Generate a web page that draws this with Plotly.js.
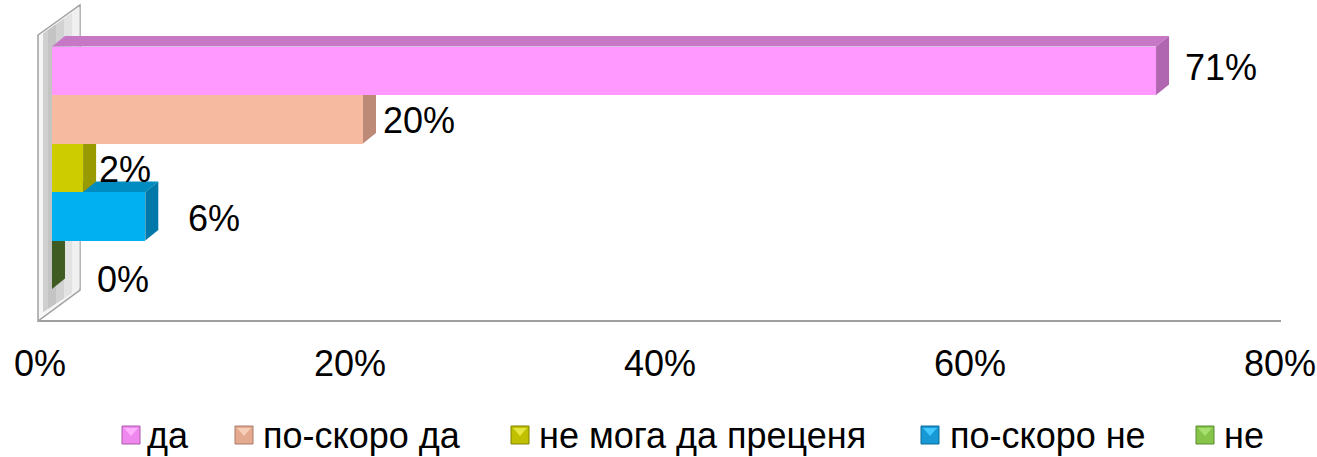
<!DOCTYPE html>
<html><head><meta charset="utf-8">
<script src="https://cdn.plot.ly/plotly-3.0.1.min.js"></script>
<style>html,body{margin:0;padding:0;background:#fff;}</style>
</head><body><div id="chart" style="width:1317px;height:457px;"></div>
<script>
// ---- data ----
const categories = ['да', 'по-скоро да', 'не мога да преценя', 'по-скоро не', 'не'];
const values = [71, 20, 2, 6, 0];
const valueLabels = ['71%', '20%', '2%', '6%', '0%'];
const tickValues = [0, 20, 40, 60, 80];
const tickLabels = ['0%', '20%', '40%', '60%', '80%'];

// ---- styles ----
const frontColors = ['#FF99FF', '#F5BAA0', '#CCCC00', '#00B0F0', '#92D050'];
const topColors   = ['#C678C6', '#D29C85', '#A8A800', '#008CC0', '#5C7F35'];
const sideColors  = ['#B066B0', '#BC8A76', '#999900', '#0079AA', '#3F5B22'];
const legendColors = ['#EE88EE', '#E4AA90', '#C0C000', '#1898D4', '#86C44A'];
const legendLight  = ['#FFB0FF', '#F8CDB8', '#E6E640', '#40C8FF', '#A8E070'];
const legendEdge   = ['#A858A8', '#A87A68', '#808000', '#0A6A98', '#5A8A2E'];
const FONT = 'Liberation Sans, Arial, sans-serif';

// geometry (pixels)
const W = 1317, H = 457, ML = 40, MR = 21, MT = 5, MB = 136;
const PW = W - ML - MR, PH = H - MT - MB;
const BAR0 = 52;                 // pixel of 0 on the bar axis
const TICK80 = 1280;             // pixel of 80% on the tick axis
const XMAX = 80;
const pxPerX = (ML + PW - BAR0) / XMAX;
const bandPx = 48.5;
const firstTop = 46.5;
const yLo = -0.5 - (firstTop - MT) / bandPx;
const yHi = yLo + PH / bandPx;
const depthX = 13 / pxPerX, depthY = 10.5 / bandPx;

const px = p => (p - ML) / PW;            // pixel -> paper x
const py = p => 1 - (p - MT) / PH;         // pixel -> paper y

const traces = categories.map((c, i) => ({
  type: 'bar', orientation: 'h', name: c,
  x: [values[i]], y: [i], xaxis: 'x2', yaxis: 'y',
  width: 1, marker: {color: frontColors[i], line: {width: 0}},
  showlegend: false, hoverinfo: 'skip'
}));
// empty trace so the tick axis subplot is drawn
traces.push({type: 'scatter', mode: 'none', x: [], y: [], xaxis: 'x', yaxis: 'y', showlegend: false, hoverinfo: 'skip'});

const shapes = [];
function poly(pts, fill, line, lw, layer) {
  const d = pts.map((p, k) => (k ? 'L' : 'M') + px(p[0]) + ',' + py(p[1])).join(' ') + ' Z';
  shapes.push({type: 'path', xref: 'paper', yref: 'paper', path: d, fillcolor: fill,
    line: {color: line, width: lw}, layer: layer || 'below'});
}
poly([[38, 35], [80, 5], [80, 290], [38, 321]], '#F6F6F6', '#A0A0A0', 1.5);
const topY = x => 35 - (x - 38) * 30 / 42;
const botY = x => 313 - (x - 42) * 25 / 38;
const bands = [[43, 48, '#CFCFCF'], [48, 56, '#C4C4C4'], [56, 64, '#D2D2D2'], [64, 72, '#E2E2E2'], [72, 79.5, '#F0F0F0']];
bands.forEach(b => poly([[b[0], topY(b[0]) + 2], [b[1], topY(b[1]) + 2], [b[1], botY(b[1])], [b[0], botY(b[0])]], b[2], 'rgba(0,0,0,0)', 0));
shapes.push({type: 'line', xref: 'paper', yref: 'paper', x0: px(38), x1: px(1281), y0: py(321), y1: py(321),
  line: {color: '#A0A0A0', width: 2}, layer: 'below'});

function dpath(pts) {
  return pts.map((p, k) => (k ? 'L' : 'M') + p[0] + ',' + p[1]).join(' ') + ' Z';
}
for (let i = categories.length - 1; i >= 0; i--) {
  const v = values[i], t = i - 0.5, b = i + 0.5;
  shapes.push({type: 'path', xref: 'x2', yref: 'y', layer: 'below',
    path: dpath([[0, t], [v, t], [v + depthX, t - depthY], [depthX, t - depthY]]),
    fillcolor: topColors[i], line: {width: 0}});
  shapes.push({type: 'path', xref: 'x2', yref: 'y', layer: 'below',
    path: dpath([[v, t], [v + depthX, t - depthY], [v + depthX, b - depthY], [v, b]]),
    fillcolor: sideColors[i], line: {width: 0}});
}

const labelDX = [27, 18, 14, 41, 43];
const labelDY = [3, -1, -2, -2, -15];
const annotations = categories.map((c, i) => ({
  xref: 'x2', yref: 'y', x: values[i], y: i, text: valueLabels[i],
  xanchor: 'left', yanchor: 'middle', xshift: labelDX[i], yshift: labelDY[i],
  showarrow: false, font: {family: FONT, size: 36, color: '#000'}
}));

// legend, drawn by hand to match the original spacing
const legMarkX = [122, 235, 511, 921, 1196];
const legTextX = [147, 263, 539, 950, 1224];
categories.forEach((c, i) => {
  const x0 = legMarkX[i], y0 = 426, s = 18;
  shapes.push({type: 'rect', xref: 'paper', yref: 'paper', layer: 'above',
    x0: px(x0), x1: px(x0 + s), y0: py(y0), y1: py(y0 + s),
    fillcolor: legendColors[i], line: {color: legendEdge[i], width: 1}});
  poly([[x0 + 2, y0 + 2], [x0 + s - 2, y0 + 2], [x0 + s / 2, y0 + s / 2 + 1]], legendLight[i], 'rgba(0,0,0,0)', 0, 'above');
  annotations.push({xref: 'paper', yref: 'paper', x: px(legTextX[i]), y: py(435),
    xanchor: 'left', yanchor: 'middle', xshift: -2, text: c, showarrow: false,
    font: {family: FONT, size: 36, color: '#000'}});
});

const layout = {
  width: W, height: H,
  margin: {l: ML, r: MR, t: MT, b: MB, pad: 0},
  paper_bgcolor: '#fff', plot_bgcolor: 'rgba(0,0,0,0)',
  barmode: 'overlay', bargap: 0, showlegend: false,
  font: {family: FONT, size: 36, color: '#000'},
  xaxis: {domain: [0, (TICK80 - ML) / PW], range: [0, XMAX], anchor: 'y',
    tickmode: 'array', tickvals: tickValues, ticktext: tickLabels,
    showgrid: false, zeroline: false, showline: false, ticks: 'outside', ticklen: 11, tickcolor: 'rgba(0,0,0,0)',
    ticklabeloverflow: 'allow', tickfont: {family: FONT, size: 36, color: '#000'}, fixedrange: true},
  xaxis2: {domain: [(BAR0 - ML) / PW, 1], range: [0, XMAX], anchor: 'y', showgrid: false, zeroline: false,
    showline: false, showticklabels: false, ticks: '', fixedrange: true},
  yaxis: {range: [yHi, yLo], anchor: 'x', showgrid: false, zeroline: false, showline: false,
    showticklabels: false, ticks: '', fixedrange: true},
  shapes: shapes, annotations: annotations
};

Plotly.newPlot('chart', traces, layout, {displayModeBar: false, staticPlot: true});
</script></body></html>
